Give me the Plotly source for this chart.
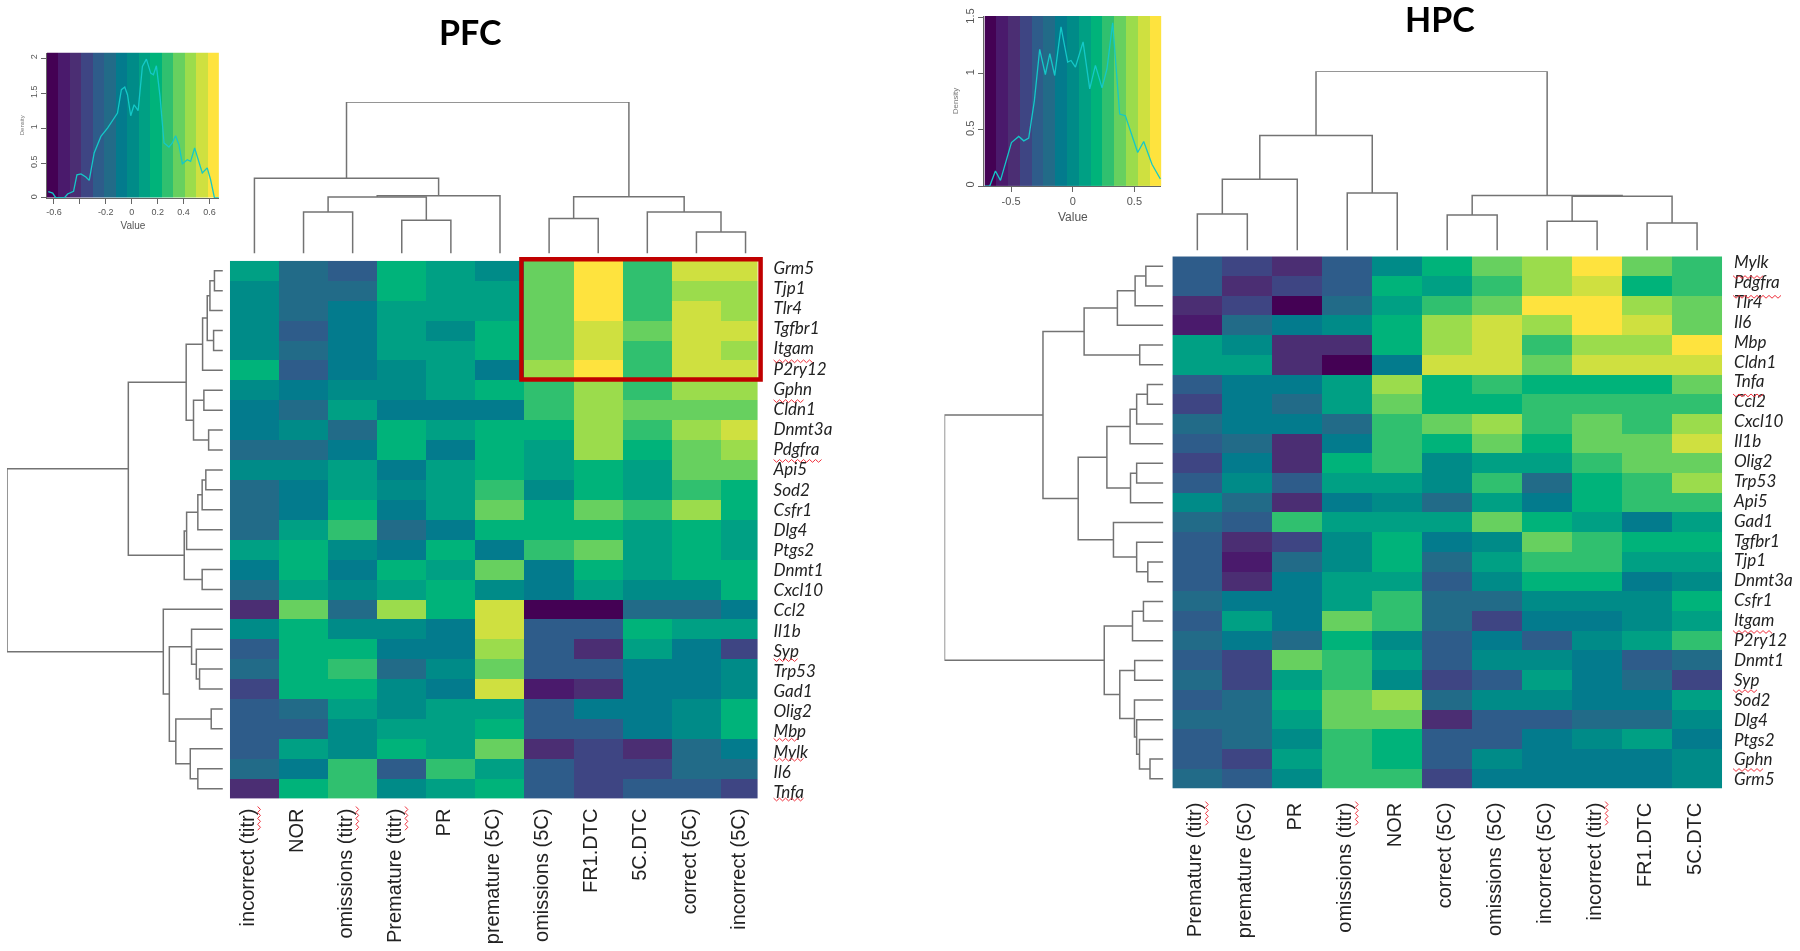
import plotly.graph_objects as go

W, H = 1800, 951

# colour key bands, index = level used in the grids below
palette = ["#440154", "#4a1a6c", "#4b2e73", "#3e4583", "#2e5c8a", "#226b88", "#037b8d", "#008b88",
           "#00a084", "#00b37a", "#30c06f", "#67d05f", "#9bdc4c", "#cfe040", "#fee33e"]

pfc_cols = ["incorrect (titr)", "NOR", "omissions (titr)", "Premature (titr)", "PR", "premature (5C)",
            "omissions (5C)", "FR1.DTC", "5C.DTC", "correct (5C)", "incorrect (5C)"]
pfc_rows = ["Grm5", "Tjp1", "Tlr4", "Tgfbr1", "Itgam", "P2ry12", "Gphn", "Cldn1", "Dnmt3a", "Pdgfra", "Api5",
            "Sod2", "Csfr1", "Dlg4", "Ptgs2", "Dnmt1", "Cxcl10", "Ccl2", "Il1b", "Syp", "Trp53", "Gad1",
            "Olig2", "Mbp", "Mylk", "Il6", "Tnfa"]
pfc_grid = [
    [8, 5, 4, 9, 8, 7, 11, 14, 10, 13, 13],
    [7, 5, 5, 9, 8, 8, 11, 14, 10, 12, 12],
    [7, 5, 6, 8, 8, 8, 11, 14, 10, 13, 12],
    [7, 4, 6, 8, 7, 9, 11, 13, 11, 13, 13],
    [7, 5, 6, 8, 8, 9, 11, 13, 10, 13, 12],
    [9, 4, 6, 7, 8, 6, 12, 14, 10, 13, 13],
    [7, 6, 7, 7, 8, 9, 10, 12, 10, 12, 12],
    [6, 5, 8, 6, 6, 6, 10, 12, 11, 11, 11],
    [6, 7, 5, 9, 8, 9, 9, 12, 10, 12, 13],
    [5, 5, 6, 9, 6, 9, 8, 12, 9, 11, 12],
    [7, 7, 8, 6, 8, 9, 8, 9, 8, 11, 11],
    [5, 6, 8, 7, 8, 10, 7, 9, 8, 10, 9],
    [5, 6, 9, 6, 8, 11, 9, 11, 10, 12, 9],
    [5, 8, 10, 5, 6, 9, 9, 9, 8, 9, 8],
    [8, 9, 7, 6, 9, 6, 10, 11, 8, 9, 8],
    [6, 9, 6, 9, 8, 11, 6, 9, 8, 9, 9],
    [5, 8, 7, 8, 9, 7, 6, 8, 7, 7, 9],
    [2, 11, 5, 12, 9, 13, 0, 0, 5, 5, 6],
    [7, 9, 7, 7, 6, 13, 4, 4, 9, 8, 8],
    [4, 9, 9, 6, 6, 12, 4, 2, 8, 6, 3],
    [5, 9, 10, 5, 7, 11, 4, 4, 6, 6, 7],
    [3, 9, 9, 7, 6, 13, 1, 2, 6, 6, 7],
    [4, 5, 8, 7, 8, 8, 4, 6, 6, 7, 9],
    [4, 4, 7, 8, 8, 9, 4, 4, 6, 7, 9],
    [4, 8, 7, 9, 8, 11, 2, 3, 2, 5, 6],
    [5, 6, 10, 4, 10, 8, 4, 3, 3, 5, 5],
    [2, 9, 10, 7, 8, 9, 4, 3, 4, 4, 3],
]

hpc_cols = ["Premature (titr)", "premature (5C)", "PR", "omissions (titr)", "NOR", "correct (5C)",
            "omissions (5C)", "incorrect (5C)", "incorrect (titr)", "FR1.DTC", "5C.DTC"]
hpc_rows = ["Mylk", "Pdgfra", "Tlr4", "Il6", "Mbp", "Cldn1", "Tnfa", "Ccl2", "Cxcl10", "Il1b", "Olig2", "Trp53",
            "Api5", "Gad1", "Tgfbr1", "Tjp1", "Dnmt3a", "Csfr1", "Itgam", "P2ry12", "Dnmt1", "Syp", "Sod2",
            "Dlg4", "Ptgs2", "Gphn", "Grm5"]
hpc_grid = [
    [4, 3, 2, 4, 7, 9, 11, 12, 14, 11, 10],
    [4, 2, 3, 4, 9, 8, 10, 12, 13, 9, 10],
    [2, 3, 0, 5, 8, 10, 11, 14, 14, 12, 11],
    [1, 5, 6, 7, 9, 12, 13, 12, 14, 13, 11],
    [8, 7, 2, 2, 9, 12, 13, 10, 12, 12, 14],
    [8, 8, 2, 0, 6, 13, 13, 11, 13, 13, 13],
    [4, 6, 6, 8, 12, 9, 10, 9, 9, 9, 11],
    [3, 6, 5, 8, 11, 9, 9, 10, 10, 10, 10],
    [5, 6, 6, 5, 10, 11, 12, 10, 11, 10, 12],
    [4, 5, 2, 6, 10, 9, 11, 9, 11, 11, 13],
    [3, 6, 2, 9, 10, 7, 8, 8, 10, 11, 11],
    [4, 7, 4, 8, 8, 7, 10, 5, 9, 10, 12],
    [7, 5, 2, 6, 7, 5, 8, 6, 9, 10, 10],
    [5, 4, 10, 8, 8, 8, 11, 9, 8, 6, 8],
    [4, 2, 3, 7, 9, 6, 7, 11, 10, 9, 9],
    [4, 1, 5, 7, 9, 5, 8, 10, 10, 8, 8],
    [4, 2, 6, 8, 8, 4, 7, 9, 9, 6, 7],
    [5, 6, 6, 8, 10, 5, 5, 7, 7, 7, 9],
    [4, 8, 6, 11, 10, 5, 3, 6, 6, 7, 8],
    [5, 6, 5, 9, 7, 4, 6, 4, 7, 8, 10],
    [4, 3, 11, 10, 8, 4, 7, 7, 6, 4, 5],
    [5, 3, 8, 10, 7, 3, 4, 8, 6, 5, 3],
    [4, 5, 9, 11, 12, 5, 7, 7, 6, 6, 8],
    [5, 5, 8, 11, 11, 2, 4, 4, 5, 5, 7],
    [4, 5, 7, 10, 9, 4, 4, 6, 7, 8, 6],
    [4, 3, 8, 10, 9, 4, 7, 6, 6, 6, 7],
    [5, 4, 7, 10, 10, 3, 6, 6, 6, 6, 7],
]

# dendrograms: (merge height, child, child), ints are leaf indices
pfc_col_tree = (1.0,
                (0.497, 0, (0.38, (0.372, (0.274, 1, 2), (0.219, 3, 4)), 5)),
                (0.374, (0.23, 6, 7), (0.274, 8, (0.142, 9, 10))))
pfc_row_tree = (1.0,
                (0.438,
                 (0.17,
                  (0.094, (0.0725, (0.06, (0.039, 0, 1), 2), (0.043, 3, 4)), 5),
                  (0.136, (0.088, 6, 7), (0.066, 8, 9))),
                 (0.179,
                  (0.168, (0.116, (0.096, (0.079, 10, 11), 12), 13), 14),
                  (0.096, 15, 16))),
                (0.276, 17,
                 (0.248,
                  (0.145, 18, (0.123, 19, (0.108, 20, 21))),
                  (0.218, (0.054, 22, 23), (0.151, 24, (0.116, 25, 26))))))
hpc_col_tree = (1.0,
                (0.641, (0.398, (0.204, 0, 1), 2), (0.321, 3, 4)),
                (0.307, (0.198, 5, 6), (0.303, (0.163, 7, 8), (0.153, 9, 10))))
hpc_row_tree = (1.0,
                (0.55,
                 (0.362, (0.21, (0.129, (0.08, 0, 1), 2), 3), (0.108, 4, 5)),
                 (0.389,
                  (0.258,
                   (0.152, (0.122, (0.073, 6, 7), 8), 9),
                   (0.15, (0.122, 10, 11), 12)),
                  (0.228, 13, (0.122, 14, (0.071, 15, 16))))),
                (0.27,
                 (0.141, (0.091, 17, 18), 19),
                 (0.199,
                  (0.131, 20, 21),
                  (0.132, 22, (0.122, 23, (0.109, 24, (0.061, 25, 26)))))))

# density curves drawn over the colour keys
pfc_key_value = [-0.644, -0.61, -0.585, -0.52, -0.495, -0.449, -0.423, -0.392, -0.354, -0.328, -0.29, -0.238,
                 -0.187, -0.11, -0.08, -0.054, -0.033, -0.008, 0.018, 0.049, 0.082, 0.113, 0.146, 0.167, 0.19,
                 0.218, 0.249, 0.287, 0.313, 0.338, 0.364, 0.39, 0.428, 0.454, 0.485, 0.518, 0.544, 0.582,
                 0.608, 0.638, 0.672]
pfc_key_density = [0.09, 0.07, 0, 0, 0.057, 0.095, 0.33, 0.343, 0.3, 0.252, 0.643, 0.88, 1.0, 1.214, 1.548, 1.586,
                   1.476, 1.176, 1.333, 1.248, 1.881, 1.986, 1.786, 1.762, 1.89, 1.452, 0.786, 0.729, 0.786, 0.89,
                   0.762, 0.49, 0.548, 0.524, 0.714, 0.524, 0.357, 0.43, 0.262, 0, 0]
hpc_key_value = [-0.716, -0.673, -0.627, -0.586, -0.497, -0.438, -0.397, -0.357, -0.311, -0.268, -0.222, -0.186,
                 -0.146, -0.095, -0.041, -0.014, 0.022, 0.084, 0.138, 0.184, 0.238, 0.278, 0.324, 0.381, 0.427,
                 0.527, 0.576, 0.643, 0.711]
hpc_key_density = [0, 0, 0.134, 0.051, 0.388, 0.442, 0.403, 0.427, 0.761, 1.218, 0.994, 1.179, 0.985, 1.418, 1.104,
                   1.119, 1.06, 1.284, 0.866, 1.075, 0.875, 1.045, 1.454, 0.642, 0.627, 0.299, 0.397, 0.194, 0.063]

# labels that got the word processor's red squiggle
pfc_squiggled = ["Itgam", "Gphn", "Pdgfra", "Syp", "Mbp", "Mylk", "Tnfa"]
hpc_squiggled = ["Mylk", "Pdgfra", "Tnfa", "Itgam", "Syp", "Gphn"]

level_scale = []
for i, c in enumerate(palette):
    level_scale += [[i / len(palette), c], [(i + 1) / len(palette), c]]

fig = go.Figure()
axes = {}
n_axes = 0


def new_axes(x0, x1, y0, y1, xopts, yopts):
    # x0..y1 are page pixels, y counted from the top
    global n_axes
    n_axes += 1
    s = "" if n_axes == 1 else str(n_axes)
    base = dict(showgrid=False, zeroline=False, showticklabels=False, ticks="")
    axes["xaxis" + s] = {**base, "domain": [x0 / W, x1 / W], "anchor": "y" + s, **xopts}
    axes["yaxis" + s] = {**base, "domain": [1 - y1 / H, 1 - y0 / H], "anchor": "x" + s, **yopts}
    return "x" + s, "y" + s


def tree_lines(node, xs, ys):
    if isinstance(node, int):
        return float(node), 0.0
    h, a, b = node
    pa, ha = tree_lines(a, xs, ys)
    pb, hb = tree_lines(b, xs, ys)
    xs += [pa, pa, pb, pb, None]
    ys += [ha, h, h, hb, None]
    return (pa + pb) / 2, h


def panel(grid, cols, rows, col_tree, row_tree, box, col_dend, row_dend, x_end, col_shift, row_spread, standoffs):
    left, right, top, bottom = box
    # * labels in the reference don't sit exactly on the cell centres
    col_ticks = [i + col_shift for i in range(11)]
    row_ticks = [row_spread[0] + i * (row_spread[1] - row_spread[0]) / 26 for i in range(27)]
    xa, ya = new_axes(left, right, top, bottom,
                      dict(range=[-0.5, x_end], side="bottom", showticklabels=True, tickangle=-90,
                           tickvals=col_ticks, ticktext=cols, ticklabelstandoff=standoffs[0],
                           tickfont=dict(family="Liberation Sans", size=20, color="#222222")),
                      dict(range=[26.5, -0.5], side="right", showticklabels=True,
                           tickvals=row_ticks, ticktext=rows, ticklabelstandoff=standoffs[1],
                           tickfont=dict(family="Lato", size=17, color="#222222", style="italic")))
    fig.add_trace(go.Heatmap(z=grid, xaxis=xa, yaxis=ya, colorscale=level_scale, zmin=-0.5, zmax=14.5,
                             showscale=False))

    line = dict(color="#737373", width=1.5)
    xs, ys = [], []
    tree_lines(col_tree, xs, ys)
    xa2, ya2 = new_axes(left, right, col_dend[0], col_dend[1], dict(range=[-0.5, x_end]), dict(range=[0, 1]))
    fig.add_trace(go.Scatter(x=xs, y=ys, xaxis=xa2, yaxis=ya2, mode="lines", line=line, showlegend=False))

    xs, ys = [], []
    tree_lines(row_tree, xs, ys)
    xa3, ya3 = new_axes(row_dend[0], row_dend[1], top, bottom, dict(range=[1, 0]), dict(range=[26.5, -0.5]))
    fig.add_trace(go.Scatter(x=ys, y=xs, xaxis=xa3, yaxis=ya3, mode="lines", line=line, showlegend=False))


def colour_key(box, xr, yr, xticks, xtext, yticks, values, density, font_size):
    tick = dict(showline=True, linecolor="#666666", ticks="outside", ticklen=5, tickcolor="#666666",
                showticklabels=True, tickfont=dict(family="Liberation Sans", size=font_size, color="#555555"))
    xa, ya = new_axes(*box,
                      dict(range=xr, tickvals=xticks, ticktext=xtext,
                           title=dict(text="Value", font=dict(family="Liberation Sans", size=font_size + 1,
                                                              color="#555555"), standoff=6), **tick),
                      dict(range=yr, tickvals=yticks, tickangle=-90,
                           title=dict(text="Density", font=dict(family="Liberation Sans", size=font_size - 3,
                                                                color="#777777"), standoff=4), **tick))
    dx = (xr[1] - xr[0]) / len(palette)
    fig.add_trace(go.Heatmap(z=[list(range(len(palette)))], x0=xr[0] + dx / 2, dx=dx,
                             y0=(yr[0] + yr[1]) / 2, dy=yr[1] - yr[0], xaxis=xa, yaxis=ya,
                             colorscale=level_scale, zmin=-0.5, zmax=14.5, showscale=False))
    fig.add_trace(go.Scatter(x=values, y=density, xaxis=xa, yaxis=ya, mode="lines", showlegend=False,
                             line=dict(color="#14c8c8", width=1.3)))


pfc_box = (229, 757, 256.5, 800)
hpc_box = (1172, 1722, 252, 790)
pfc_x_end = 10.245  # last column is cut off in the reference
hpc_x_end = 10.5
pfc_col_shift = -0.15
hpc_col_shift = -0.05

panel(pfc_grid, pfc_cols, pfc_rows, pfc_col_tree, pfc_row_tree, pfc_box, (96, 249), (6, 222),
      pfc_x_end, pfc_col_shift, (-0.15, 26.17), (5, 15))
panel(hpc_grid, hpc_cols, hpc_rows, hpc_col_tree, hpc_row_tree, hpc_box, (65, 246), (944, 1163),
      hpc_x_end, hpc_col_shift, (-0.21, 26.03), (9, 11))

colour_key((46, 218, 46, 193), [-0.654, 0.672], [0, 2.08], [-0.6, -0.4, -0.2, 0, 0.2, 0.4, 0.6],
           ["-0.6", "", "-0.2", "0", "0.2", "0.4", "0.6"], [0, 0.5, 1, 1.5, 2], pfc_key_value, pfc_key_density, 9)
colour_key((984, 1161, 9, 181), [-0.716, 0.719], [0, 1.516], [-0.5, 0, 0.5],
           ["-0.5", "0", "0.5"], [0, 0.5, 1, 1.5], hpc_key_value, hpc_key_density, 11)

# red squiggles and the cluster box, page pixel axes
xa_px, ya_px = new_axes(0, W, 0, H, dict(range=[0, W]), dict(range=[H, 0]))


def squiggle(x0, y0, length, vertical=False):
    xs, ys = [], []
    for i in range(int(length / 3) + 1):
        along = i * 3
        off = 1.4 if i % 2 else -1.4
        xs.append(x0 + off if vertical else x0 + along)
        ys.append(y0 + along if vertical else y0 + off)
    fig.add_trace(go.Scatter(x=xs, y=ys, xaxis=xa_px, yaxis=ya_px, mode="lines", showlegend=False,
                             line=dict(color="#f0303c", width=1)))


for names, squiggled, box, start in [(pfc_rows, pfc_squiggled, pfc_box, 773), (hpc_rows, hpc_squiggled, hpc_box, 1733)]:
    pitch = (box[3] - box[2]) / 27
    for name in squiggled:
        y = box[2] + (names.index(name) + 0.5) * pitch + 11
        squiggle(start, y, len(name) * 8)

for names, box, shift, pitch, gap in [(pfc_cols, pfc_box, pfc_col_shift, 49.14, 8), (hpc_cols, hpc_box, hpc_col_shift, 50, 13)]:
    for i, name in enumerate(names):
        if "titr" in name:
            squiggle(box[0] + (i + 0.5 + shift) * pitch + 12, box[3] + gap, 26, vertical=True)

# red box around the PFC cluster
fig.add_shape(type="rect", xref=xa_px, yref=ya_px, x0=520.7, x1=760, y0=255, y1=376.5,
              line=dict(color="#c00000", width=4.5))

for text, cx, cy in [("PFC", 470, 25), ("HPC", 1440, 12)]:
    fig.add_annotation(text=f"<b>{text}</b>", x=cx / W, y=1 - cy / H, xref="paper", yref="paper", showarrow=False,
                       xanchor="center", yanchor="middle", font=dict(family="Lato", size=34, color="black"))

fig.update_layout(width=W, height=H, margin=dict(l=0, r=0, t=0, b=0), paper_bgcolor="white",
                  plot_bgcolor="rgba(0,0,0,0)", showlegend=False, **axes)

# the reference is a soft, upscaled screenshot
fig.write_html("out.html", config={"displayModeBar": False},
               post_script="document.body.style.margin='0';"
                           "document.querySelector('.plotly-graph-div').style.filter='blur(0.5px)';")
